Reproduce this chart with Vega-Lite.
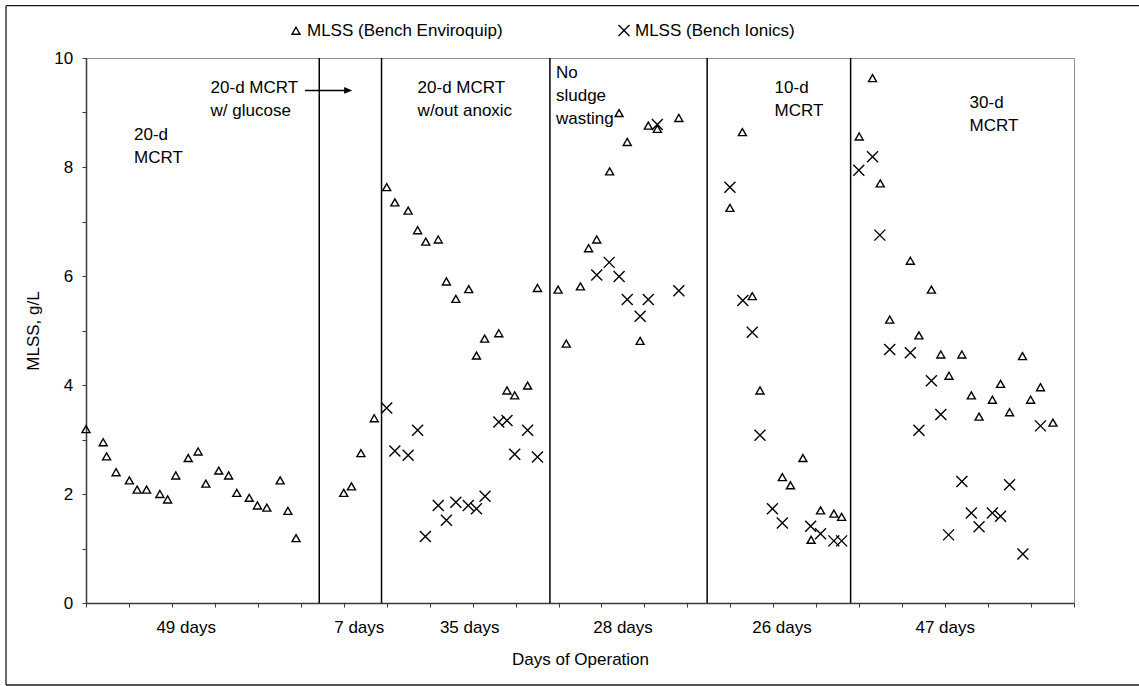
{
  "$schema": "https://vega.github.io/schema/vega-lite/v6.json",
  "width": 988,
  "height": 545,
  "autosize": {"type": "none"},
  "padding": {"left": 86, "top": 58, "right": 65, "bottom": 83},
  "background": "white",
  "config": {
    "font": "Liberation Sans",
    "view": {"stroke": "#8c8c8c", "strokeWidth": 1},
    "axis": {
      "labelFont": "Liberation Sans",
      "titleFont": "Liberation Sans",
      "labelFontSize": 17,
      "titleFontSize": 17,
      "labelColor": "#000",
      "titleColor": "#000",
      "titleFontWeight": "normal",
      "grid": false,
      "domainColor": "#3a3a3a",
      "domainWidth": 1.5,
      "tickColor": "#3a3a3a",
      "tickWidth": 1
    },
    "legend": {
      "labelFont": "Liberation Sans",
      "labelFontSize": 17,
      "labelColor": "#000",
      "labelLimit": 400
    }
  },
  "datasets": {
    "mlss": [
      {"day": 0, "mlss": 3.19, "bench": "MLSS (Bench Enviroquip)"},
      {"day": 4.0, "mlss": 2.95, "bench": "MLSS (Bench Enviroquip)"},
      {"day": 4.8, "mlss": 2.69, "bench": "MLSS (Bench Enviroquip)"},
      {"day": 7.0, "mlss": 2.40, "bench": "MLSS (Bench Enviroquip)"},
      {"day": 10.1, "mlss": 2.25, "bench": "MLSS (Bench Enviroquip)"},
      {"day": 11.9, "mlss": 2.08, "bench": "MLSS (Bench Enviroquip)"},
      {"day": 14.1, "mlss": 2.08, "bench": "MLSS (Bench Enviroquip)"},
      {"day": 17.2, "mlss": 2.00, "bench": "MLSS (Bench Enviroquip)"},
      {"day": 19.0, "mlss": 1.90, "bench": "MLSS (Bench Enviroquip)"},
      {"day": 20.9, "mlss": 2.34, "bench": "MLSS (Bench Enviroquip)"},
      {"day": 23.8, "mlss": 2.66, "bench": "MLSS (Bench Enviroquip)"},
      {"day": 26.1, "mlss": 2.78, "bench": "MLSS (Bench Enviroquip)"},
      {"day": 27.9, "mlss": 2.19, "bench": "MLSS (Bench Enviroquip)"},
      {"day": 30.9, "mlss": 2.43, "bench": "MLSS (Bench Enviroquip)"},
      {"day": 33.2, "mlss": 2.34, "bench": "MLSS (Bench Enviroquip)"},
      {"day": 35.1, "mlss": 2.02, "bench": "MLSS (Bench Enviroquip)"},
      {"day": 38.0, "mlss": 1.93, "bench": "MLSS (Bench Enviroquip)"},
      {"day": 39.9, "mlss": 1.79, "bench": "MLSS (Bench Enviroquip)"},
      {"day": 42.1, "mlss": 1.75, "bench": "MLSS (Bench Enviroquip)"},
      {"day": 45.2, "mlss": 2.25, "bench": "MLSS (Bench Enviroquip)"},
      {"day": 47.0, "mlss": 1.69, "bench": "MLSS (Bench Enviroquip)"},
      {"day": 48.9, "mlss": 1.19, "bench": "MLSS (Bench Enviroquip)"},
      {"day": 60.0, "mlss": 2.02, "bench": "MLSS (Bench Enviroquip)"},
      {"day": 61.8, "mlss": 2.14, "bench": "MLSS (Bench Enviroquip)"},
      {"day": 64.0, "mlss": 2.75, "bench": "MLSS (Bench Enviroquip)"},
      {"day": 67.1, "mlss": 3.39, "bench": "MLSS (Bench Enviroquip)"},
      {"day": 70.0, "mlss": 7.63, "bench": "MLSS (Bench Enviroquip)"},
      {"day": 71.9, "mlss": 7.35, "bench": "MLSS (Bench Enviroquip)"},
      {"day": 75.0, "mlss": 7.20, "bench": "MLSS (Bench Enviroquip)"},
      {"day": 77.2, "mlss": 6.84, "bench": "MLSS (Bench Enviroquip)"},
      {"day": 79.1, "mlss": 6.63, "bench": "MLSS (Bench Enviroquip)"},
      {"day": 82.0, "mlss": 6.67, "bench": "MLSS (Bench Enviroquip)"},
      {"day": 83.9, "mlss": 5.90, "bench": "MLSS (Bench Enviroquip)"},
      {"day": 86.1, "mlss": 5.58, "bench": "MLSS (Bench Enviroquip)"},
      {"day": 89.1, "mlss": 5.76, "bench": "MLSS (Bench Enviroquip)"},
      {"day": 90.9, "mlss": 4.54, "bench": "MLSS (Bench Enviroquip)"},
      {"day": 92.8, "mlss": 4.85, "bench": "MLSS (Bench Enviroquip)"},
      {"day": 96.1, "mlss": 4.95, "bench": "MLSS (Bench Enviroquip)"},
      {"day": 98.0, "mlss": 3.90, "bench": "MLSS (Bench Enviroquip)"},
      {"day": 99.8, "mlss": 3.81, "bench": "MLSS (Bench Enviroquip)"},
      {"day": 102.8, "mlss": 3.99, "bench": "MLSS (Bench Enviroquip)"},
      {"day": 105.1, "mlss": 5.78, "bench": "MLSS (Bench Enviroquip)"},
      {"day": 109.9, "mlss": 5.75, "bench": "MLSS (Bench Enviroquip)"},
      {"day": 111.8, "mlss": 4.76, "bench": "MLSS (Bench Enviroquip)"},
      {"day": 115.1, "mlss": 5.81, "bench": "MLSS (Bench Enviroquip)"},
      {"day": 117.0, "mlss": 6.51, "bench": "MLSS (Bench Enviroquip)"},
      {"day": 118.9, "mlss": 6.67, "bench": "MLSS (Bench Enviroquip)"},
      {"day": 121.9, "mlss": 7.92, "bench": "MLSS (Bench Enviroquip)"},
      {"day": 124.1, "mlss": 8.99, "bench": "MLSS (Bench Enviroquip)"},
      {"day": 126.0, "mlss": 8.46, "bench": "MLSS (Bench Enviroquip)"},
      {"day": 129.0, "mlss": 4.81, "bench": "MLSS (Bench Enviroquip)"},
      {"day": 130.9, "mlss": 8.76, "bench": "MLSS (Bench Enviroquip)"},
      {"day": 133.0, "mlss": 8.70, "bench": "MLSS (Bench Enviroquip)"},
      {"day": 138.0, "mlss": 8.90, "bench": "MLSS (Bench Enviroquip)"},
      {"day": 149.9, "mlss": 7.25, "bench": "MLSS (Bench Enviroquip)"},
      {"day": 152.8, "mlss": 8.64, "bench": "MLSS (Bench Enviroquip)"},
      {"day": 155.1, "mlss": 5.63, "bench": "MLSS (Bench Enviroquip)"},
      {"day": 156.9, "mlss": 3.90, "bench": "MLSS (Bench Enviroquip)"},
      {"day": 162.1, "mlss": 2.31, "bench": "MLSS (Bench Enviroquip)"},
      {"day": 164.0, "mlss": 2.16, "bench": "MLSS (Bench Enviroquip)"},
      {"day": 166.9, "mlss": 2.66, "bench": "MLSS (Bench Enviroquip)"},
      {"day": 168.8, "mlss": 1.16, "bench": "MLSS (Bench Enviroquip)"},
      {"day": 171.0, "mlss": 1.70, "bench": "MLSS (Bench Enviroquip)"},
      {"day": 174.1, "mlss": 1.64, "bench": "MLSS (Bench Enviroquip)"},
      {"day": 175.9, "mlss": 1.58, "bench": "MLSS (Bench Enviroquip)"},
      {"day": 180.0, "mlss": 8.56, "bench": "MLSS (Bench Enviroquip)"},
      {"day": 183.1, "mlss": 9.63, "bench": "MLSS (Bench Enviroquip)"},
      {"day": 184.9, "mlss": 7.70, "bench": "MLSS (Bench Enviroquip)"},
      {"day": 187.1, "mlss": 5.20, "bench": "MLSS (Bench Enviroquip)"},
      {"day": 191.9, "mlss": 6.28, "bench": "MLSS (Bench Enviroquip)"},
      {"day": 193.9, "mlss": 4.91, "bench": "MLSS (Bench Enviroquip)"},
      {"day": 196.8, "mlss": 5.75, "bench": "MLSS (Bench Enviroquip)"},
      {"day": 199.0, "mlss": 4.56, "bench": "MLSS (Bench Enviroquip)"},
      {"day": 200.9, "mlss": 4.17, "bench": "MLSS (Bench Enviroquip)"},
      {"day": 203.9, "mlss": 4.56, "bench": "MLSS (Bench Enviroquip)"},
      {"day": 206.1, "mlss": 3.81, "bench": "MLSS (Bench Enviroquip)"},
      {"day": 207.9, "mlss": 3.42, "bench": "MLSS (Bench Enviroquip)"},
      {"day": 211.0, "mlss": 3.73, "bench": "MLSS (Bench Enviroquip)"},
      {"day": 212.9, "mlss": 4.02, "bench": "MLSS (Bench Enviroquip)"},
      {"day": 215.0, "mlss": 3.50, "bench": "MLSS (Bench Enviroquip)"},
      {"day": 218.0, "mlss": 4.53, "bench": "MLSS (Bench Enviroquip)"},
      {"day": 219.9, "mlss": 3.73, "bench": "MLSS (Bench Enviroquip)"},
      {"day": 222.2, "mlss": 3.96, "bench": "MLSS (Bench Enviroquip)"},
      {"day": 225.1, "mlss": 3.31, "bench": "MLSS (Bench Enviroquip)"},
      {"day": 70.0, "mlss": 3.58, "bench": "MLSS (Bench Ionics)"},
      {"day": 71.9, "mlss": 2.79, "bench": "MLSS (Bench Ionics)"},
      {"day": 75.0, "mlss": 2.71, "bench": "MLSS (Bench Ionics)"},
      {"day": 77.2, "mlss": 3.17, "bench": "MLSS (Bench Ionics)"},
      {"day": 79.0, "mlss": 1.22, "bench": "MLSS (Bench Ionics)"},
      {"day": 82.0, "mlss": 1.79, "bench": "MLSS (Bench Ionics)"},
      {"day": 83.9, "mlss": 1.52, "bench": "MLSS (Bench Ionics)"},
      {"day": 86.1, "mlss": 1.85, "bench": "MLSS (Bench Ionics)"},
      {"day": 89.0, "mlss": 1.79, "bench": "MLSS (Bench Ionics)"},
      {"day": 90.9, "mlss": 1.73, "bench": "MLSS (Bench Ionics)"},
      {"day": 92.9, "mlss": 1.96, "bench": "MLSS (Bench Ionics)"},
      {"day": 96.1, "mlss": 3.32, "bench": "MLSS (Bench Ionics)"},
      {"day": 98.0, "mlss": 3.35, "bench": "MLSS (Bench Ionics)"},
      {"day": 99.8, "mlss": 2.73, "bench": "MLSS (Bench Ionics)"},
      {"day": 102.8, "mlss": 3.17, "bench": "MLSS (Bench Ionics)"},
      {"day": 105.1, "mlss": 2.68, "bench": "MLSS (Bench Ionics)"},
      {"day": 118.9, "mlss": 6.02, "bench": "MLSS (Bench Ionics)"},
      {"day": 121.8, "mlss": 6.25, "bench": "MLSS (Bench Ionics)"},
      {"day": 124.1, "mlss": 5.99, "bench": "MLSS (Bench Ionics)"},
      {"day": 126.0, "mlss": 5.57, "bench": "MLSS (Bench Ionics)"},
      {"day": 129.0, "mlss": 5.26, "bench": "MLSS (Bench Ionics)"},
      {"day": 130.9, "mlss": 5.57, "bench": "MLSS (Bench Ionics)"},
      {"day": 133.0, "mlss": 8.78, "bench": "MLSS (Bench Ionics)"},
      {"day": 138.0, "mlss": 5.73, "bench": "MLSS (Bench Ionics)"},
      {"day": 149.9, "mlss": 7.63, "bench": "MLSS (Bench Ionics)"},
      {"day": 152.9, "mlss": 5.55, "bench": "MLSS (Bench Ionics)"},
      {"day": 155.1, "mlss": 4.97, "bench": "MLSS (Bench Ionics)"},
      {"day": 156.9, "mlss": 3.08, "bench": "MLSS (Bench Ionics)"},
      {"day": 159.8, "mlss": 1.73, "bench": "MLSS (Bench Ionics)"},
      {"day": 162.1, "mlss": 1.47, "bench": "MLSS (Bench Ionics)"},
      {"day": 168.7, "mlss": 1.41, "bench": "MLSS (Bench Ionics)"},
      {"day": 171.0, "mlss": 1.27, "bench": "MLSS (Bench Ionics)"},
      {"day": 174.1, "mlss": 1.14, "bench": "MLSS (Bench Ionics)"},
      {"day": 175.9, "mlss": 1.14, "bench": "MLSS (Bench Ionics)"},
      {"day": 179.9, "mlss": 7.94, "bench": "MLSS (Bench Ionics)"},
      {"day": 183.1, "mlss": 8.19, "bench": "MLSS (Bench Ionics)"},
      {"day": 184.8, "mlss": 6.75, "bench": "MLSS (Bench Ionics)"},
      {"day": 187.1, "mlss": 4.65, "bench": "MLSS (Bench Ionics)"},
      {"day": 191.9, "mlss": 4.59, "bench": "MLSS (Bench Ionics)"},
      {"day": 193.9, "mlss": 3.17, "bench": "MLSS (Bench Ionics)"},
      {"day": 196.8, "mlss": 4.08, "bench": "MLSS (Bench Ionics)"},
      {"day": 199.0, "mlss": 3.46, "bench": "MLSS (Bench Ionics)"},
      {"day": 200.8, "mlss": 1.25, "bench": "MLSS (Bench Ionics)"},
      {"day": 203.9, "mlss": 2.23, "bench": "MLSS (Bench Ionics)"},
      {"day": 206.1, "mlss": 1.65, "bench": "MLSS (Bench Ionics)"},
      {"day": 207.9, "mlss": 1.40, "bench": "MLSS (Bench Ionics)"},
      {"day": 211.0, "mlss": 1.65, "bench": "MLSS (Bench Ionics)"},
      {"day": 212.9, "mlss": 1.59, "bench": "MLSS (Bench Ionics)"},
      {"day": 215.0, "mlss": 2.17, "bench": "MLSS (Bench Ionics)"},
      {"day": 218.1, "mlss": 0.90, "bench": "MLSS (Bench Ionics)"},
      {"day": 222.2, "mlss": 3.25, "bench": "MLSS (Bench Ionics)"}
    ],
    "dividers": [
      {"day": 54.3},
      {"day": 68.8},
      {"day": 108.0},
      {"day": 144.6},
      {"day": 178.0}
    ],
    "notes": [
      {"day": 11.17, "mlss": 8.50, "note": "20-d\nMCRT"},
      {"day": 29.0, "mlss": 9.363, "note": "20-d MCRT\nw/ glucose"},
      {"day": 77.2, "mlss": 9.363, "note": "20-d MCRT\nw/out anoxic"},
      {"day": 109.4, "mlss": 9.628, "note": "No\nsludge\nwasting"},
      {"day": 160.3, "mlss": 9.363, "note": "10-d\nMCRT"},
      {"day": 205.7, "mlss": 9.077, "note": "30-d\nMCRT"}
    ],
    "arrow": [
      {"day": 50.97, "day_end": 61.04, "mlss": 9.405}
    ]
  },
  "resolve": {"axis": {"x": "independent", "y": "independent"}},
  "layer": [
    {
      "data": {"values": [{}]},
      "mark": {"type": "rule", "color": "#1a1a1a", "strokeWidth": 1.3},
      "encoding": {
        "x": {"datum": -18.62, "type": "quantitative", "scale": {"domain": [0, 230], "nice": false, "zero": false}, "axis": null},
        "x2": {"datum": 262},
        "y": {"datum": 10.96, "type": "quantitative", "scale": {"domain": [0, 10], "nice": false}, "axis": null}
      }
    },
    {
      "data": {"values": [{}]},
      "mark": {"type": "rule", "color": "#1a1a1a", "strokeWidth": 1.3},
      "encoding": {
        "x": {"datum": -18.62, "type": "quantitative", "scale": {"domain": [0, 230], "nice": false, "zero": false}, "axis": null},
        "x2": {"datum": 262},
        "y": {"datum": -1.505, "type": "quantitative", "scale": {"domain": [0, 10], "nice": false}, "axis": null}
      }
    },
    {
      "data": {"values": [{}]},
      "mark": {"type": "rule", "color": "#1a1a1a", "strokeWidth": 1.3},
      "encoding": {
        "x": {"datum": -18.62, "type": "quantitative", "scale": {"domain": [0, 230], "nice": false, "zero": false}, "axis": null},
        "y": {"datum": 10.96, "type": "quantitative", "scale": {"domain": [0, 10], "nice": false}, "axis": null},
        "y2": {"datum": -1.505}
      }
    },
    {
      "data": {"name": "dividers"},
      "mark": {"type": "rule", "color": "#000", "strokeWidth": 1.5},
      "encoding": {
        "x": {
          "field": "day",
          "type": "quantitative",
          "scale": {"domain": [0, 230], "nice": false, "zero": false},
          "axis": {
            "orient": "bottom",
            "values": [23.2, 63.5, 89.2, 124.9, 161.9, 199.9],
            "labelExpr": "datum.value < 40 ? '49 days' : datum.value < 75 ? '7 days' : datum.value < 100 ? '35 days' : datum.value < 140 ? '28 days' : datum.value < 180 ? '26 days' : '47 days'",
            "ticks": false,
            "tickSize": 0,
            "domain": false,
            "labelPadding": 16.6,
            "labelFlush": false,
            "labelOverlap": false,
            "title": null
          }
        }
      }
    },
    {
      "data": {"name": "arrow"},
      "mark": {"type": "rule", "color": "#000", "strokeWidth": 1.5},
      "encoding": {
        "x": {"field": "day", "type": "quantitative", "scale": {"domain": [0, 230], "nice": false, "zero": false}, "axis": null},
        "x2": {"field": "day_end"},
        "y": {"field": "mlss", "type": "quantitative", "scale": {"domain": [0, 10], "nice": false}, "axis": null}
      }
    },
    {
      "data": {"name": "arrow"},
      "mark": {"type": "point", "shape": "M1,0L-1,-0.85L-1,0.85Z", "size": 64, "filled": true, "color": "#000", "opacity": 1},
      "encoding": {
        "x": {"field": "day_end", "type": "quantitative", "scale": {"domain": [0, 230], "nice": false, "zero": false}, "axis": null},
        "y": {"field": "mlss", "type": "quantitative", "scale": {"domain": [0, 10], "nice": false}, "axis": null}
      }
    },
    {
      "data": {"name": "notes"},
      "mark": {"type": "text", "align": "left", "baseline": "alphabetic", "fontSize": 17, "lineHeight": 23, "lineBreak": "\n", "color": "#000", "font": "Liberation Sans"},
      "encoding": {
        "x": {"field": "day", "type": "quantitative", "scale": {"domain": [0, 230], "nice": false, "zero": false}, "axis": null},
        "y": {"field": "mlss", "type": "quantitative", "scale": {"domain": [0, 10], "nice": false}, "axis": null},
        "text": {"field": "note"}
      }
    },
    {
      "data": {"name": "mlss"},
      "mark": {"type": "point", "filled": false, "color": "#000", "strokeWidth": 1.4, "size": 121, "opacity": 1},
      "encoding": {
        "x": {
          "field": "day",
          "type": "quantitative",
          "scale": {"domain": [0, 230], "nice": false, "zero": false},
          "axis": {
            "orient": "bottom",
            "values": [0, 10, 20, 30, 40, 50, 60, 70, 80, 90, 100, 110, 120, 130, 140, 150, 160, 170, 180, 190, 200, 210, 220, 230],
            "labels": false,
            "tickSize": 4,
            "title": "Days of Operation",
            "titlePadding": 44
          }
        },
        "y": {
          "field": "mlss",
          "type": "quantitative",
          "scale": {"domain": [0, 10], "nice": false},
          "axis": {
            "orient": "left",
            "values": [0, 1, 2, 3, 4, 5, 6, 7, 8, 9, 10],
            "labelExpr": "datum.value % 2 === 0 ? datum.label : ''",
            "tickSize": 4,
            "labelPadding": 9.3,
            "title": "MLSS, g/L",
            "titlePadding": 11
          }
        },
        "shape": {
          "field": "bench",
          "type": "nominal",
          "scale": {
            "domain": ["MLSS (Bench Enviroquip)", "MLSS (Bench Ionics)"],
            "range": ["M0,-0.636L0.727,0.636L-0.727,0.636Z", "M-1,-1L1,1M-1,1L1,-1"]
          },
          "legend": {
            "orient": "none",
            "direction": "horizontal",
            "columns": 2,
            "legendX": 201.5,
            "legendY": -36,
            "title": null,
            "padding": 0,
            "columnPadding": 112,
            "labelOffset": 2.5,
            "symbolSize": 121,
            "symbolStrokeWidth": 1.4,
            "symbolStrokeColor": "#000",
            "symbolFillColor": "transparent"
          }
        }
      }
    }
  ]
}
